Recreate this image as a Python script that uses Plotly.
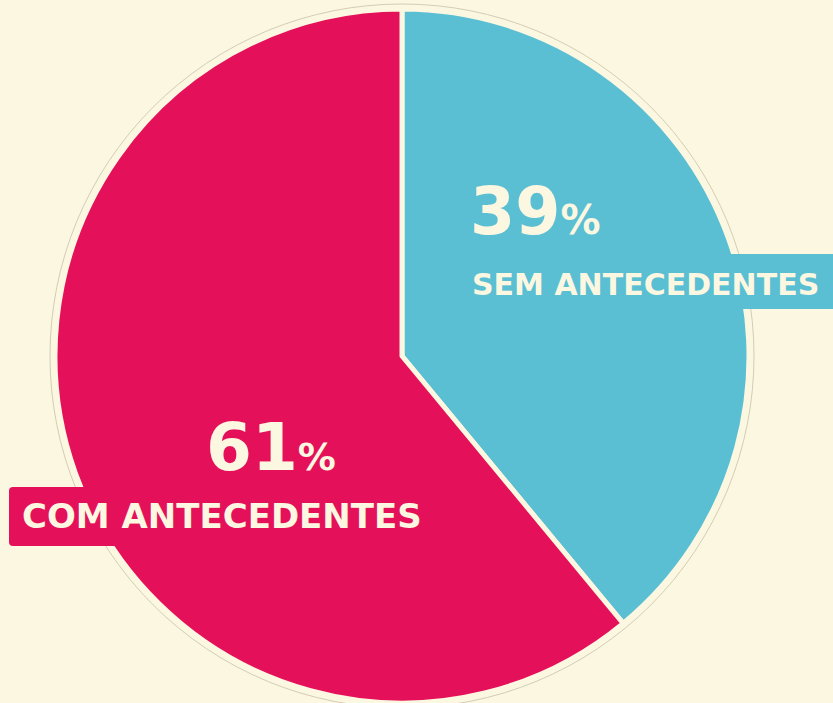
import plotly.graph_objects as go

W, H = 833, 703

labels = ["SEM ANTECEDENTES", "COM ANTECEDENTES"]
values = [39, 61]
pct_text = ["39", "61"]
colors = ["#5ABFD3", "#E5105A"]
bg = "#FCF7E1"
cream = "#FCF7E1"

def px(x):
    return x / W

def py(y):
    return 1 - y / H

cx, cy, r = 402, 356, 347

fig = go.Figure()
fig.add_trace(go.Pie(
    labels=labels, values=values, sort=False, direction="clockwise", rotation=0,
    marker=dict(colors=colors, line=dict(color=cream, width=5)),
    textinfo="none", hoverinfo="label+percent", showlegend=False,
    domain=dict(x=[px(cx - r), px(cx + r)], y=[py(cy + r), py(cy - r)]),
))

def rrect(x0, y0, x1, y1, rad):
    pts = (f"M {px(x0+rad)},{py(y0)} L {px(x1-rad)},{py(y0)} "
           f"Q {px(x1)},{py(y0)} {px(x1)},{py(y0+rad)} "
           f"L {px(x1)},{py(y1-rad)} Q {px(x1)},{py(y1)} {px(x1-rad)},{py(y1)} "
           f"L {px(x0+rad)},{py(y1)} Q {px(x0)},{py(y1)} {px(x0)},{py(y1-rad)} "
           f"L {px(x0)},{py(y0+rad)} Q {px(x0)},{py(y0)} {px(x0+rad)},{py(y0)} Z")
    return pts

shapes = [
    dict(type="circle", xref="paper", yref="paper",
         x0=px(cx - 352), x1=px(cx + 352), y0=py(cy + 352), y1=py(cy - 352),
         line=dict(color="#d3cdb4", width=1), layer="below"),
    dict(type="path", xref="paper", yref="paper", path=rrect(450, 254, 845, 309, 4),
         fillcolor=colors[0], line=dict(width=0), layer="above"),
    dict(type="path", xref="paper", yref="paper", path=rrect(9, 487, 300, 546, 4),
         fillcolor=colors[1], line=dict(width=0), layer="above"),
]

font_fam = "DejaVu Sans"
annotations = [
    dict(x=px(468), y=py(212), xref="paper", yref="paper", xanchor="left", yanchor="middle",
         showarrow=False,
         text=f"{pct_text[0]}<span style='font-size:40px'>%</span>",
         font=dict(family=font_fam, size=65, color=cream, weight="bold")),
    dict(x=px(470), y=py(284), xref="paper", yref="paper", xanchor="left", yanchor="middle",
         showarrow=False, text=labels[0],
         font=dict(family=font_fam, size=30, color=cream, weight="bold")),
    dict(x=px(204), y=py(447), xref="paper", yref="paper", xanchor="left", yanchor="middle",
         showarrow=False,
         text=f"{pct_text[1]}<span style='font-size:38px'>%</span>",
         font=dict(family=font_fam, size=66, color=cream, weight="bold")),
    dict(x=px(20), y=py(516), xref="paper", yref="paper", xanchor="left", yanchor="middle",
         showarrow=False, text=labels[1],
         font=dict(family=font_fam, size=34, color=cream, weight="bold")),
]

fig.update_layout(
    width=W, height=H, margin=dict(l=0, r=0, t=0, b=0),
    paper_bgcolor=bg, plot_bgcolor=bg,
    shapes=shapes, annotations=annotations,
)

fig.write_html(
    "out.html",
    config={"displayModeBar": False},
    post_script="document.body.style.margin='0';document.body.style.background='#FCF7E1';document.body.style.overflow='hidden';",
)
